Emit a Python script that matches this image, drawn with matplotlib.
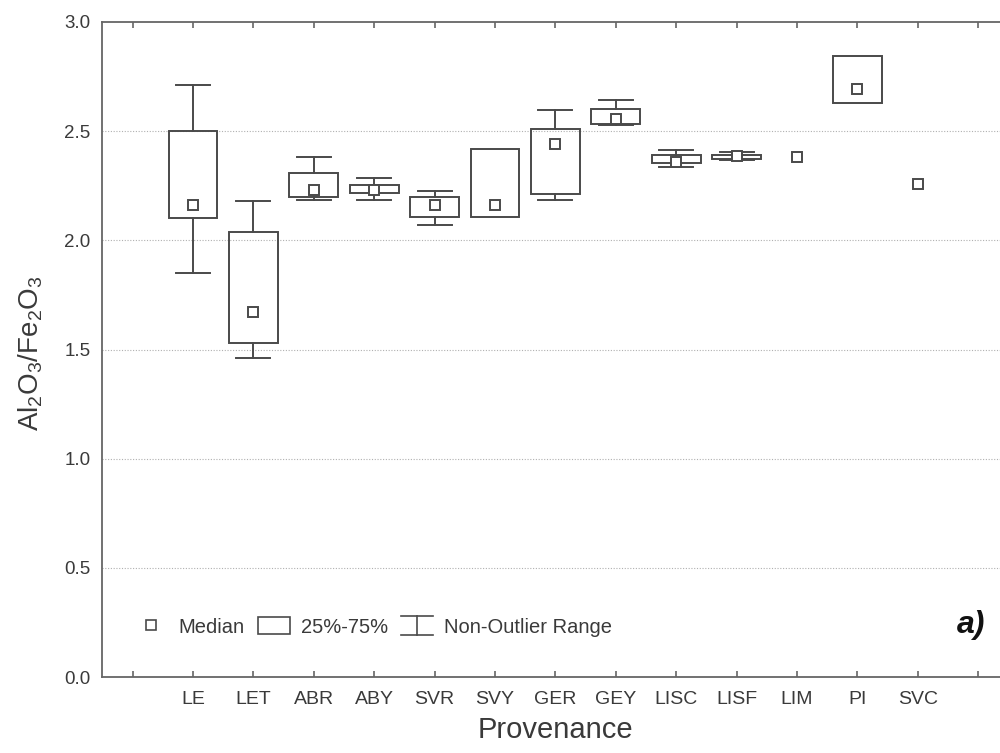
import numpy as np
import matplotlib.pyplot as plt
from matplotlib.patches import Rectangle
from matplotlib.lines import Line2D
from matplotlib.legend_handler import HandlerBase

plt.rcParams['font.family'] = ['Liberation Sans', 'DejaVu Sans']
plt.rcParams['mathtext.fontset'] = 'custom'
plt.rcParams['mathtext.rm'] = 'Liberation Sans'
plt.rcParams['mathtext.it'] = 'Liberation Sans:italic'

# Provenance groups
groups = ["LE", "LET", "ABR", "ABY", "SVR", "SVY", "GER", "GEY", "LISC", "LISF", "LIM", "PI", "SVC"]
# non-outlier min / 25% / median / 75% / non-outlier max
wlo = [1.85, 1.46, 2.185, 2.185, 2.07, 2.105, 2.185, 2.53, 2.335, 2.37, 2.38, 2.63, 2.26]
q1 = [2.10, 1.53, 2.20, 2.215, 2.105, 2.105, 2.21, 2.535, 2.355, 2.372, 2.38, 2.63, 2.26]
med = [2.16, 1.67, 2.23, 2.23, 2.16, 2.16, 2.44, 2.555, 2.36, 2.387, 2.38, 2.695, 2.26]
q3 = [2.50, 2.04, 2.31, 2.255, 2.20, 2.42, 2.51, 2.60, 2.39, 2.392, 2.38, 2.845, 2.26]
whi = [2.71, 2.18, 2.38, 2.285, 2.225, 2.42, 2.595, 2.645, 2.415, 2.405, 2.38, 2.845, 2.26]

col = "#4a4a4a"
txtcol = "#3a3a3a"
lw = 1.4
bw = 0.81   # box width
cw = 0.56   # cap width

fig = plt.figure(figsize=(10, 7.53), dpi=100)
ax = fig.add_axes([0.1024, 0.1009, 0.906, 0.8699])

x = np.arange(len(groups))
for i in range(len(groups)):
    if q3[i] > q1[i]:
        ax.add_patch(Rectangle((x[i] - bw / 2, q1[i]), bw, q3[i] - q1[i],
                               fill=False, ec=col, lw=lw, zorder=3))
    if whi[i] > q3[i]:
        ax.plot([x[i], x[i]], [q3[i], whi[i]], color=col, lw=lw, zorder=3)
        ax.plot([x[i] - cw / 2, x[i] + cw / 2], [whi[i], whi[i]], color=col, lw=lw, zorder=3)
    if wlo[i] < q1[i]:
        ax.plot([x[i], x[i]], [q1[i], wlo[i]], color=col, lw=lw, zorder=3)
        ax.plot([x[i] - cw / 2, x[i] + cw / 2], [wlo[i], wlo[i]], color=col, lw=lw, zorder=3)
ax.plot(x, med, ls="none", marker="s", ms=7.5, mfc="white", mec=col, mew=lw, zorder=4)

ax.set_xlim(-1.5, 13.5)
ax.set_ylim(0, 3.0)
ax.set_xticks(np.arange(-1, 14))
ax.set_xticklabels([""] + groups + [""])
ax.set_yticks(np.arange(0, 3.01, 0.5))
ax.set_yticklabels(["%.1f" % v for v in np.arange(0, 3.01, 0.5)])
ax.tick_params(axis="x", direction="in", top=True, length=4, width=1.2, color="#666666",
               labelsize=14, labelcolor=txtcol, pad=10)
ax.tick_params(axis="y", direction="in", length=0, labelsize=13.5, labelcolor=txtcol, pad=8.5)
for v in [0.5, 1.0, 1.5, 2.0, 2.5]:
    ax.axhline(v, color="#b0b0b0", lw=0.8, ls=(0, (1, 1.5)), zorder=1)
for s in ["left", "bottom", "top"]:
    ax.spines[s].set_color("#666666")
    ax.spines[s].set_linewidth(1.3)
ax.spines["right"].set_visible(False)

ax.set_xlabel("Provenance", fontsize=21, color=txtcol, labelpad=6)
ax.set_ylabel(r"Al$_2$O$_3$/Fe$_2$O$_3$", fontsize=20, color=txtcol)
ax.yaxis.set_label_coords(-0.063, 0.495)


class WhiskerHandler(HandlerBase):
    def create_artists(self, legend, orig, xd, yd, width, height, fontsize, trans):
        cx = xd + width / 2
        y0, y1 = yd - 2, yd + height + 2
        arts = [Line2D([cx, cx], [y0, y1]),
                Line2D([xd, xd + width], [y0, y0]),
                Line2D([xd, xd + width], [y1, y1])]
        for a in arts:
            a.set_color(col)
            a.set_linewidth(1.2)
            a.set_transform(trans)
        return arts


class BoxHandler(HandlerBase):
    def create_artists(self, legend, orig, xd, yd, width, height, fontsize, trans):
        r = Rectangle((xd, yd - 1), width, height + 2, fill=False, ec=col, lw=1.2, transform=trans)
        return [r]


h_med = Line2D([], [], ls="none", marker="s", ms=6.5, mfc="white", mec=col, mew=1.2)
h_box = Rectangle((0, 0), 1, 1)
h_whi = Line2D([], [])
leg = ax.legend([h_med, h_box, h_whi], ["Median", "25%-75%", "Non-Outlier Range"],
                handler_map={h_box: BoxHandler(), h_whi: WhiskerHandler()},
                loc="center left", bbox_to_anchor=(0.036, 0.0763), ncol=3, frameon=False,
                borderpad=0, borderaxespad=0,
                fontsize=14.5, handlelength=1.6, handletextpad=0.55, columnspacing=0.65)
for t in leg.get_texts():
    t.set_color(txtcol)

ax.text(0.9587, 0.079, "a)", transform=ax.transAxes, fontsize=23, fontweight="bold",
        fontstyle="italic", ha="center", va="center", color="#111111")

fig.savefig("out.png", dpi=100)
